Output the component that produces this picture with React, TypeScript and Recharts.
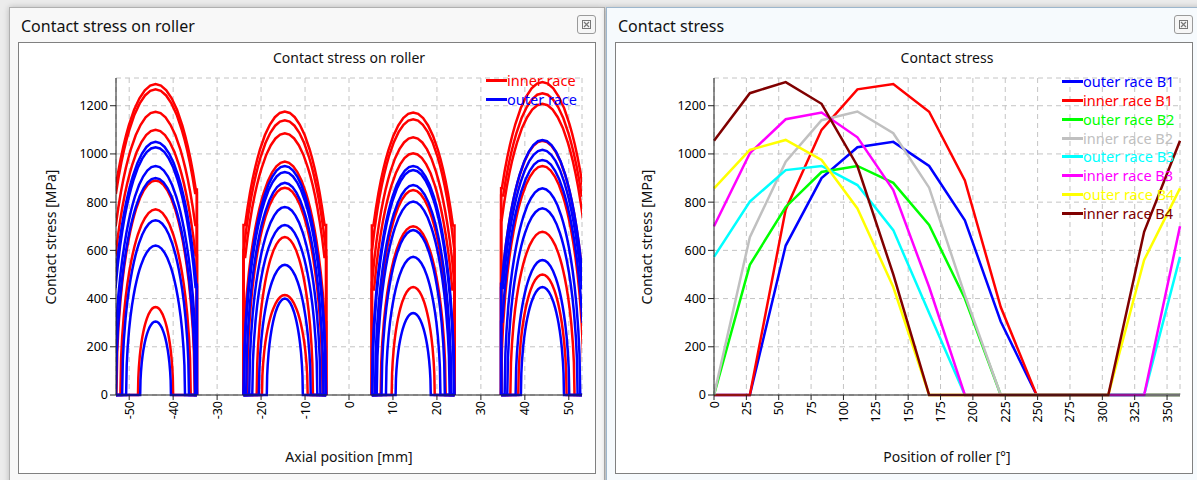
import { CartesianGrid, Line, LineChart, XAxis, YAxis } from "recharts";

// roller angular positions [deg] (0 and 360 are the same roller)
const POSITION = [0, 27.7, 55.4, 83.1, 110.8, 138.5, 166.2, 193.8, 221.5, 249.2, 276.9, 304.6, 332.3, 360];

// peak contact stress [MPa] per roller position
const OUTER_B1 = [0, 0, 620, 900, 1028, 1050, 950, 725, 305, 0, 0, 0, 0, 0];
const INNER_B1 = [0, 0, 770, 1100, 1268, 1290, 1175, 890, 365, 0, 0, 0, 0, 0];
const OUTER_B2 = [0, 540, 780, 925, 950, 880, 705, 400, 0, 0, 0, 0, 0, 0];
const INNER_B2 = [0, 655, 968, 1140, 1176, 1086, 860, 415, 0, 0, 0, 0, 0, 0];
const OUTER_B3 = [573, 802, 933, 950, 871, 684, 340, 0, 0, 0, 0, 0, 0, 573];
const INNER_B3 = [700, 1003, 1144, 1172, 1069, 850, 448, 0, 0, 0, 0, 0, 0, 700];
const OUTER_B4 = [857, 1017, 1058, 975, 774, 448, 0, 0, 0, 0, 0, 0, 560, 857];
const INNER_B4 = [1055, 1252, 1298, 1208, 950, 500, 0, 0, 0, 0, 0, 0, 677, 1055];

// half contact length along the roller [mm] per position (0..332.3 deg), 0 = unloaded
const HALF_OUTER_B1 = [0, 0, 6.7, 9.0, 10.1, 10.3, 9.4, 7.6, 3.5, 0, 0, 0, 0];
const HALF_INNER_B1 = [0, 0, 8.0, 10.7, 12.0, 12.2, 11.3, 8.9, 4.0, 0, 0, 0, 0];
const HALF_OUTER_B2 = [0, 5.9, 8.1, 9.3, 9.4, 8.8, 7.4, 4.1, 0, 0, 0, 0, 0];
const HALF_INNER_B2 = [0, 6.4, 9.6, 11.0, 11.3, 10.6, 8.6, 5.2, 0, 0, 0, 0, 0];
const HALF_OUTER_B3 = [6.2, 8.3, 9.3, 9.4, 8.7, 7.2, 4.0, 0, 0, 0, 0, 0, 0];
const HALF_INNER_B3 = [7.4, 9.9, 11.0, 11.3, 10.4, 8.5, 4.9, 0, 0, 0, 0, 0, 0];
const HALF_OUTER_B4 = [8.6, 10.0, 10.3, 9.6, 8.0, 4.9, 0, 0, 0, 0, 0, 0, 6.1];
const HALF_INNER_B4 = [10.3, 11.9, 12.3, 11.6, 9.4, 5.5, 0, 0, 0, 0, 0, 0, 7.3];

// axial centre of the four roller rows [mm]
const ROW_CENTER = [-44, -14.6, 14.6, 44];
const ROLLER_HALF = 9.4;

// normalised Hertz profile: fraction of half length -> fraction of peak
const PROFILE_U = [0, 0.1, 0.2, 0.3, 0.4, 0.5, 0.55, 0.6, 0.65, 0.7, 0.75, 0.8, 0.85, 0.9, 0.95, 0.98, 1];
const PROFILE_F = [1, 0.995, 0.98, 0.954, 0.917, 0.866, 0.835, 0.8, 0.76, 0.714, 0.661, 0.6, 0.527, 0.436, 0.312, 0.199, 0];

const AXIAL_TICKS = [-50, -40, -30, -20, -10, 0, 10, 20, 30, 40, 50];
const POSITION_TICKS = [0, 25, 50, 75, 100, 125, 150, 175, 200, 225, 250, 275, 300, 325, 350];
const STRESS_TICKS = [0, 200, 400, 600, 800, 1000, 1200];

const RED = "#ff0000";
const BLUE = "#0000ff";

const SERIES = [
  { name: "outer race B1", values: OUTER_B1, color: "#0000ff" },
  { name: "inner race B1", values: INNER_B1, color: "#ff0000" },
  { name: "outer race B2", values: OUTER_B2, color: "#00ff00" },
  { name: "inner race B2", values: INNER_B2, color: "#c0c0c0" },
  { name: "outer race B3", values: OUTER_B3, color: "#00ffff" },
  { name: "inner race B3", values: INNER_B3, color: "#ff00ff" },
  { name: "outer race B4", values: OUTER_B4, color: "#ffff00" },
  { name: "inner race B4", values: INNER_B4, color: "#800000" },
];

const ROWS = [
  { center: ROW_CENTER[0], inner: INNER_B1, innerHalf: HALF_INNER_B1, outer: OUTER_B1, outerHalf: HALF_OUTER_B1 },
  { center: ROW_CENTER[1], inner: INNER_B2, innerHalf: HALF_INNER_B2, outer: OUTER_B2, outerHalf: HALF_OUTER_B2 },
  { center: ROW_CENTER[2], inner: INNER_B3, innerHalf: HALF_INNER_B3, outer: OUTER_B3, outerHalf: HALF_OUTER_B3 },
  { center: ROW_CENTER[3], inner: INNER_B4, innerHalf: HALF_INNER_B4, outer: OUTER_B4, outerHalf: HALF_OUTER_B4 },
];

type Pt = { x: number; y: number };

function rollerCurve(center: number, half: number, peak: number): Pt[] {
  const side: { dx: number; f: number }[] = [];
  for (let k = PROFILE_U.length - 1; k >= 0; k--) {
    const dx = PROFILE_U[k] * half;
    if (dx <= ROLLER_HALF) side.push({ dx, f: PROFILE_F[k] });
  }
  const edge = side[0].f * peak; // stress at the roller end, 0 if contact is shorter
  const pts: Pt[] = [
    { x: center - ROLLER_HALF, y: 0 },
    { x: center - ROLLER_HALF, y: edge },
  ];
  side.forEach((s) => pts.push({ x: center - s.dx, y: s.f * peak }));
  side
    .slice(0, -1)
    .reverse()
    .forEach((s) => pts.push({ x: center + s.dx, y: s.f * peak }));
  pts.push({ x: center + ROLLER_HALF, y: edge }, { x: center + ROLLER_HALF, y: 0 });
  return pts;
}

function curves(kind: "inner" | "outer") {
  const out: { key: string; pts: Pt[] }[] = [];
  ROWS.forEach((r, ri) => {
    const halves = kind === "inner" ? r.innerHalf : r.outerHalf;
    const peaks = kind === "inner" ? r.inner : r.outer;
    halves.forEach((h, i) => {
      if (h > 0) out.push({ key: `${kind}-${ri}-${i}`, pts: rollerCurve(r.center, h, peaks[i]) });
    });
  });
  return out;
}

const INNER_CURVES = curves("inner");
const OUTER_CURVES = curves("outer");

const positionData = POSITION.map((x, i) => {
  const row: Record<string, number> = { x };
  SERIES.forEach((s, k) => (row[`s${k}`] = s.values[i]));
  return row;
});

const TICK_FONT = 12.5;
const AXIS = "#222";

function VerticalTick(props: any) {
  const { x, y, payload } = props;
  return (
    <text
      x={x}
      y={y}
      transform={`rotate(-90, ${x}, ${y})`}
      textAnchor="end"
      dominantBaseline="central"
      fontSize={TICK_FONT}
      fill="#000"
    >
      {payload.value}
    </text>
  );
}

function Window({ left, width, title, bg, border }: { left: number; width: number; title: string; bg: string; border: string }) {
  return (
    <div
      style={{
        position: "absolute",
        left,
        top: 7,
        width,
        height: 490,
        background: bg,
        border: `1px solid ${border}`,
        boxShadow: "0 0 6px rgba(0,0,0,0.22)",
      }}
    >
      <div style={{ position: "absolute", left: 11, top: 7, fontSize: 16, lineHeight: "22px", color: "#111" }}>
        {title}
      </div>
    </div>
  );
}

function CloseButton({ left }: { left: number }) {
  return (
    <div
      style={{
        position: "absolute",
        left,
        top: 15,
        width: 17,
        height: 17,
        border: "1px solid #9a9a9a",
        borderRadius: 3,
        background: "#f6f6f6",
      }}
    >
      <svg width={17} height={17} style={{ position: "absolute", left: 0, top: 0 }}>
        <rect x={4.5} y={4.5} width={8} height={8} fill="none" stroke="#777" />
        <path d="M6 6 L11 11 M11 6 L6 11" stroke="#777" strokeWidth={1.2} />
      </svg>
    </div>
  );
}

function Panel({ left }: { left: number }) {
  return (
    <div
      style={{
        position: "absolute",
        left,
        top: 42,
        width: 576,
        height: 430,
        background: "#fff",
        border: "1px solid #808080",
      }}
    />
  );
}

function Text({ x, y, text, rotate }: { x: number; y: number; text: string; rotate?: boolean }) {
  return (
    <div
      style={{
        position: "absolute",
        left: x,
        top: y,
        transform: `translate(-50%, -50%)${rotate ? " rotate(-90deg)" : ""}`,
        fontSize: 14,
        color: "#111",
        whiteSpace: "nowrap",
      }}
    >
      {text}
    </div>
  );
}

function SeriesLegend({
  left,
  top,
  rowH,
  items,
}: {
  left: number;
  top: number;
  rowH: number;
  items: { name: string; color: string }[];
}) {
  return (
    <div style={{ position: "absolute", left, top }}>
      {items.map((it) => (
        <div key={it.name} style={{ display: "flex", alignItems: "center", height: rowH }}>
          <span style={{ display: "inline-block", width: 21, height: 3, background: it.color }} />
          <span style={{ color: it.color, fontSize: 14.5, lineHeight: `${rowH}px`, whiteSpace: "nowrap" }}>
            {it.name}
          </span>
        </div>
      ))}
    </div>
  );
}

function AxialChart() {
  return (
    <LineChart width={578} height={432} margin={{ top: 36, right: 14, bottom: 39, left: 38 }}>
      <CartesianGrid stroke="#c4c4c4" strokeDasharray="5 4" />
      <XAxis
        type="number"
        dataKey="x"
        domain={[-53, 53]}
        allowDataOverflow
        ticks={AXIAL_TICKS}
        interval={0}
        height={40}
        tickSize={5}
        tickMargin={1}
        tick={<VerticalTick />}
        axisLine={{ stroke: AXIS }}
        tickLine={{ stroke: AXIS }}
      />
      <YAxis
        type="number"
        domain={[0, 1315]}
        ticks={STRESS_TICKS}
        interval={0}
        width={60}
        tickSize={6}
        tick={{ fontSize: TICK_FONT, fill: "#000" }}
        axisLine={{ stroke: AXIS }}
        tickLine={{ stroke: AXIS }}
      />
      {INNER_CURVES.map((c) => (
        <Line
          key={c.key}
          data={c.pts}
          dataKey="y"
          type="linear"
          stroke={RED}
          strokeWidth={2.5}
          dot={false}
          activeDot={false}
          isAnimationActive={false}
        />
      ))}
      {OUTER_CURVES.map((c) => (
        <Line
          key={c.key}
          data={c.pts}
          dataKey="y"
          type="linear"
          stroke={BLUE}
          strokeWidth={2.5}
          dot={false}
          activeDot={false}
          isAnimationActive={false}
        />
      ))}
    </LineChart>
  );
}

function PositionChart() {
  return (
    <LineChart width={578} height={432} data={positionData} margin={{ top: 36, right: 13, bottom: 39, left: 39 }}>
      <CartesianGrid stroke="#c4c4c4" strokeDasharray="5 4" />
      <XAxis
        type="number"
        dataKey="x"
        domain={[0, 360]}
        ticks={POSITION_TICKS}
        interval={0}
        height={40}
        tickSize={5}
        tickMargin={1}
        tick={<VerticalTick />}
        axisLine={{ stroke: AXIS }}
        tickLine={{ stroke: AXIS }}
      />
      <YAxis
        type="number"
        domain={[0, 1315]}
        ticks={STRESS_TICKS}
        interval={0}
        width={60}
        tickSize={6}
        tick={{ fontSize: TICK_FONT, fill: "#000" }}
        axisLine={{ stroke: AXIS }}
        tickLine={{ stroke: AXIS }}
      />
      {SERIES.map((s, k) => (
        <Line
          key={s.name}
          dataKey={`s${k}`}
          type="linear"
          stroke={s.color}
          strokeWidth={2.5}
          dot={false}
          activeDot={false}
          isAnimationActive={false}
        />
      ))}
    </LineChart>
  );
}

export default function App() {
  return (
    <div
      style={{
        position: "relative",
        width: 1197,
        height: 480,
        overflow: "hidden",
        background: "#ececec",
        fontFamily: '"Noto Sans", "DejaVu Sans", sans-serif',
      }}
    >
      <style>{"body{margin:0}"}</style>

      <Window left={9} width={594} title="Contact stress on roller" bg="#f8f8f8" border="#b0b0b0" />
      <Window left={606} width={600} title="Contact stress" bg="#f6fafd" border="#9db6cc" />
      <CloseButton left={577} />
      <CloseButton left={1174} />
      <Panel left={18} />
      <Panel left={615} />

      <div style={{ position: "absolute", left: 18, top: 42 }}>
        <AxialChart />
      </div>
      <div style={{ position: "absolute", left: 615, top: 42 }}>
        <PositionChart />
      </div>

      <Text x={349} y={57} text="Contact stress on roller" />
      <Text x={947} y={57} text="Contact stress" />
      <Text x={50} y={237} text="Contact stress [MPa]" rotate />
      <Text x={646} y={237} text="Contact stress [MPa]" rotate />
      <Text x={349} y={456} text="Axial position [mm]" />
      <Text x={947} y={456} text="Position of roller [°]" />

      <SeriesLegend
        left={486}
        top={70.5}
        rowH={19}
        items={[
          { name: "inner race", color: RED },
          { name: "outer race", color: BLUE },
        ]}
      />
      <SeriesLegend left={1062} top={72.3} rowH={18.8} items={SERIES.map((s) => ({ name: s.name, color: s.color }))} />
    </div>
  );
}
